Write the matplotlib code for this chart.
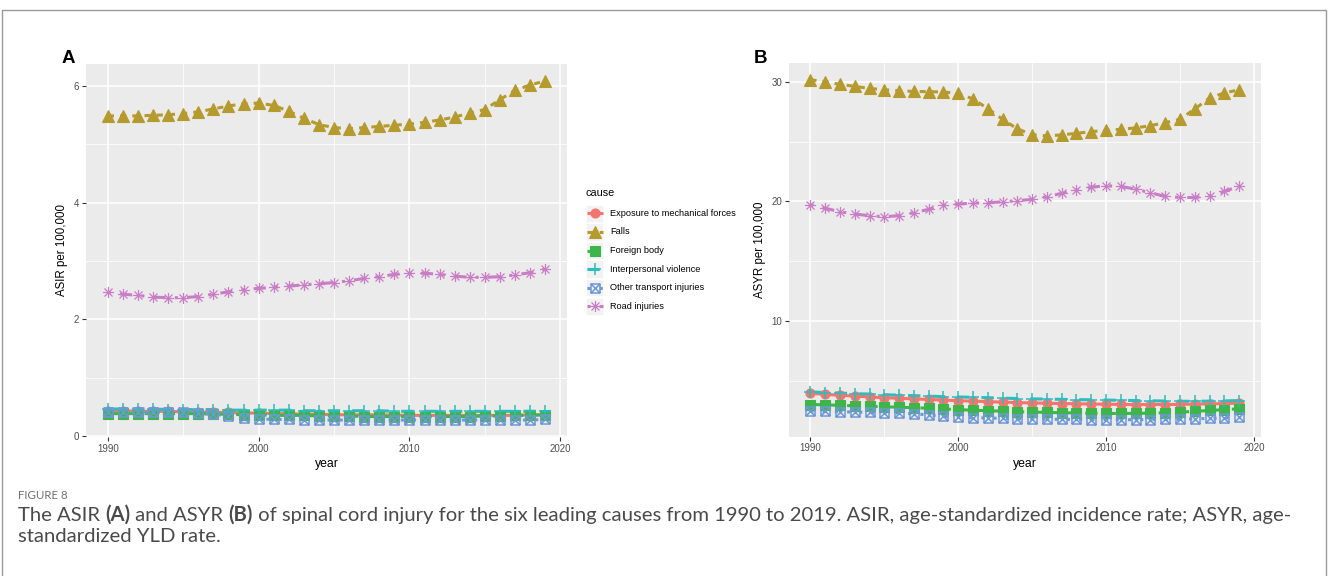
import numpy as np
import matplotlib
matplotlib.use("Agg")
import matplotlib.pyplot as plt
from matplotlib.path import Path
from matplotlib.patches import Rectangle
from matplotlib.lines import Line2D

plt.rcParams["font.family"] = ["Liberation Sans", "DejaVu Sans"]

# ---------------- data ----------------
years = list(range(1990, 2020))
causes = ["Exposure to mechanical forces", "Falls", "Foreign body",
          "Interpersonal violence", "Other transport injuries", "Road injuries"]

asir_exposure = [0.43, 0.43, 0.42, 0.42, 0.42, 0.41, 0.41, 0.40, 0.40, 0.39,
                 0.39, 0.38, 0.38, 0.37, 0.37, 0.36, 0.36, 0.36, 0.36, 0.355,
                 0.35, 0.35, 0.35, 0.35, 0.35, 0.35, 0.35, 0.35, 0.36, 0.36]
asir_falls = [5.49, 5.49, 5.49, 5.50, 5.51, 5.53, 5.56, 5.61, 5.66, 5.70,
              5.71, 5.67, 5.57, 5.45, 5.34, 5.29, 5.27, 5.29, 5.31, 5.33,
              5.35, 5.38, 5.42, 5.47, 5.54, 5.60, 5.77, 5.93, 6.02, 6.09]
asir_foreign = [0.38, 0.38, 0.38, 0.38, 0.38, 0.38, 0.38, 0.37, 0.37, 0.36,
                0.36, 0.35, 0.35, 0.35, 0.34, 0.34, 0.34, 0.33, 0.33, 0.33,
                0.33, 0.33, 0.33, 0.33, 0.33, 0.34, 0.34, 0.35, 0.35, 0.36]
asir_interp = [0.46, 0.46, 0.46, 0.46, 0.45, 0.45, 0.45, 0.45, 0.44, 0.44,
               0.44, 0.44, 0.44, 0.43, 0.43, 0.43, 0.43, 0.43, 0.43, 0.42,
               0.42, 0.42, 0.42, 0.42, 0.42, 0.42, 0.42, 0.42, 0.42, 0.42]
asir_other = [0.40, 0.40, 0.40, 0.40, 0.40, 0.40, 0.39, 0.37, 0.34, 0.30,
              0.29, 0.28, 0.28, 0.27, 0.27, 0.27, 0.27, 0.27, 0.27, 0.27,
              0.27, 0.27, 0.27, 0.27, 0.27, 0.27, 0.27, 0.27, 0.27, 0.28]
asir_road = [2.46, 2.43, 2.41, 2.38, 2.37, 2.37, 2.39, 2.43, 2.47, 2.51,
             2.53, 2.55, 2.57, 2.59, 2.61, 2.63, 2.66, 2.70, 2.73, 2.77,
             2.79, 2.79, 2.77, 2.74, 2.72, 2.72, 2.73, 2.76, 2.80, 2.86]

asyr_exposure = [3.97, 3.88, 3.80, 3.73, 3.66, 3.60, 3.55, 3.50, 3.45, 3.40,
                 3.35, 3.31, 3.27, 3.23, 3.19, 3.16, 3.13, 3.11, 3.09, 3.07,
                 3.05, 3.04, 3.03, 3.03, 3.03, 3.04, 3.06, 3.08, 3.11, 3.14]
asyr_falls = [30.17, 30.00, 29.78, 29.61, 29.44, 29.33, 29.25, 29.19, 29.17, 29.14,
              29.03, 28.56, 27.75, 26.86, 26.06, 25.58, 25.47, 25.56, 25.69, 25.83,
              25.94, 26.03, 26.14, 26.33, 26.58, 26.86, 27.72, 28.64, 29.06, 29.33]
asyr_foreign = [3.03, 3.00, 2.96, 2.92, 2.88, 2.84, 2.80, 2.76, 2.72, 2.66,
                2.60, 2.55, 2.51, 2.47, 2.43, 2.40, 2.37, 2.34, 2.32, 2.30,
                2.28, 2.28, 2.29, 2.31, 2.34, 2.39, 2.46, 2.53, 2.60, 2.67]
asyr_interp = [4.08, 4.03, 3.98, 3.94, 3.90, 3.85, 3.81, 3.77, 3.73, 3.69,
               3.66, 3.63, 3.60, 3.56, 3.53, 3.50, 3.48, 3.46, 3.44, 3.42,
               3.40, 3.38, 3.36, 3.34, 3.32, 3.30, 3.30, 3.31, 3.33, 3.36]
asyr_other = [2.47, 2.45, 2.42, 2.40, 2.37, 2.35, 2.32, 2.25, 2.16, 2.05,
              1.97, 1.93, 1.90, 1.87, 1.84, 1.82, 1.80, 1.79, 1.78, 1.77,
              1.76, 1.76, 1.76, 1.77, 1.78, 1.80, 1.83, 1.87, 1.91, 1.95]
asyr_road = [19.72, 19.42, 19.14, 18.94, 18.81, 18.72, 18.81, 19.06, 19.33, 19.67,
             19.78, 19.86, 19.89, 19.97, 20.06, 20.17, 20.39, 20.67, 20.94, 21.19,
             21.31, 21.25, 21.03, 20.72, 20.42, 20.33, 20.33, 20.47, 20.83, 21.28]

asir_series = [asir_exposure, asir_falls, asir_foreign, asir_interp, asir_other, asir_road]
asyr_series = [asyr_exposure, asyr_falls, asyr_foreign, asyr_interp, asyr_other, asyr_road]

# ---------------- styles ----------------
colors = ["#F2766E", "#B59A2E", "#3DB54B", "#2CBDBF", "#6E98D8", "#C97DC6"]

boxx = Path([(-1, -1), (1, -1), (1, 1), (-1, 1), (-1, -1),
             (-1, -1), (1, 1), (-1, 1), (1, -1)],
            [Path.MOVETO, Path.LINETO, Path.LINETO, Path.LINETO, Path.CLOSEPOLY,
             Path.MOVETO, Path.LINETO, Path.MOVETO, Path.LINETO])
d = 0.72
aster = Path([(-1, 0), (1, 0), (0, -1), (0, 1), (-d, -d), (d, d), (-d, d), (d, -d)],
             [Path.MOVETO, Path.LINETO] * 4)

markers = ["o", "^", "s", "+", boxx, aster]
msizes = [6.5, 8, 6.5, 9, 6.5, 8]
mfilled = [True, True, True, False, False, False]
mews = [0.8, 0.8, 0.8, 1.1, 1.1, 0.9]
dashes = [None, (2, 2), (4, 2), (4, 4), (1, 3), (1, 3, 4, 3)]
LW = 2.2

W, H = 1328, 576
fig = plt.figure(figsize=(W / 100, H / 100), dpi=100)

def px_axes(left, top, right, bottom):
    return fig.add_axes([left / W, 1 - bottom / H, (right - left) / W, (bottom - top) / H])

def style_axes(ax, yticks, yminor, ylabel):
    ax.set_facecolor("#EBEBEB")
    for s in ax.spines.values():
        s.set_visible(False)
    ax.set_xticks([1990, 2000, 2010, 2020])
    ax.set_xticks([1995, 2005, 2015], minor=True)
    ax.set_yticks(yticks)
    ax.set_yticks(yminor, minor=True)
    ax.grid(which="major", color="white", lw=1.1)
    ax.grid(which="minor", color="white", lw=0.55)
    ax.set_axisbelow(True)
    ax.tick_params(which="major", length=2.8, width=0.8, color="#333333",
                   labelsize=7, labelcolor="#4D4D4D", pad=2)
    ax.tick_params(which="minor", length=0)
    ax.set_xlabel("year", fontsize=8.8, color="black", labelpad=3)
    ax.set_ylabel(ylabel, fontsize=8.3, color="black", labelpad=4)

def draw(ax, series):
    allv = np.concatenate([np.asarray(s) for s in series])
    lo, hi = allv.min(), allv.max()
    pad = 0.05 * (hi - lo)
    ax.set_ylim(lo - pad, hi + pad)
    xpad = 0.05 * (years[-1] - years[0])
    ax.set_xlim(years[0] - xpad, years[-1] + xpad)
    for i, s in enumerate(series):
        ln, = ax.plot(years, s, color=colors[i], lw=LW, zorder=2,
                      solid_capstyle="butt", dash_capstyle="butt")
        if dashes[i] is not None:
            ln.set_dashes(dashes[i])
    for i, s in enumerate(series):
        ax.plot(years, s, ls="none", marker=markers[i], ms=msizes[i],
                mfc=colors[i] if mfilled[i] else "none", mec=colors[i],
                mew=mews[i], zorder=3)

axA = px_axes(86, 64, 567, 437)
draw(axA, asir_series)
style_axes(axA, [0, 2, 4, 6], [1, 3, 5], "ASIR per 100,000")
axA.set_yticklabels(["0", "2", "4", "6"])

axB = px_axes(789, 62.7, 1260.5, 436.7)
draw(axB, asyr_series)
style_axes(axB, [10, 20, 30], [5, 15, 25], "ASYR per 100,000")

# overlay in pixel coordinates
ov = fig.add_axes([0, 0, 1, 1], zorder=10)
ov.set_xlim(0, W)
ov.set_ylim(H, 0)
ov.axis("off")
ov.patch.set_alpha(0)

# border
ov.plot([2, 2, 1326, 1326], [H, 10, 10, H], color="#9A9A9A", lw=1.0)

# panel labels
ov.text(62, 62.7, "A", fontsize=13.5, fontweight="bold",
        va="baseline", ha="left")
ov.text(754, 62.7, "B", fontsize=13.5, fontweight="bold",
        va="baseline", ha="left")

# legend
ov.text(585.5, 196.5, "cause", fontsize=7.8, va="baseline", ha="left")
leg_y = [213.3, 231.8, 250.5, 269.0, 287.7, 306.4]
for i, c in enumerate(causes):
    y = leg_y[i]
    ov.add_patch(Rectangle((586, y - 8.6), 17.3, 17.3, facecolor="#F2F2F2",
                           edgecolor="white", lw=0.5, zorder=1))
    ln = Line2D([587, 603], [y, y], color=colors[i], lw=LW, zorder=2,
                solid_capstyle="butt", dash_capstyle="butt")
    if dashes[i] is not None:
        ln.set_dashes(dashes[i])
    ov.add_line(ln)
    ov.add_line(Line2D([595], [y], ls="none", marker=markers[i], ms=msizes[i],
                       mfc=colors[i] if mfilled[i] else "none", mec=colors[i],
                       mew=mews[i], zorder=3))
    ov.text(610, y, c, fontsize=6.6, va="center", ha="left")

# caption
CAPF = ["Lato", "DejaVu Sans"]
ov.text(18, 499, "FIGURE 8", fontsize=8.3, color="#707070", family=CAPF,
        va="baseline", ha="left")

renderer = fig.canvas.get_renderer()
cap_color = "#4A4A4A"
CAPW = "normal"

def seg_width(s, size, weight):
    t = ov.text(0, 0, "|" + s + "|", fontsize=size, fontweight=weight, family=CAPF)
    w1 = t.get_window_extent(renderer=renderer).width
    t.remove()
    t = ov.text(0, 0, "||", fontsize=size, fontweight=weight, family=CAPF)
    w2 = t.get_window_extent(renderer=renderer).width
    t.remove()
    return w1 - w2

line1 = [("The ASIR ", CAPW), ("(A)", "bold"), (" and ASYR ", CAPW),
         ("(B)", "bold"),
         (" of spinal cord injury for the six leading causes from 1990 to 2019. "
          "ASIR, age-standardized incidence rate; ASYR, age-", CAPW)]
line2 = [("standardized YLD rate.", CAPW)]

base = 10.0
tot = sum(seg_width(s, base, w) for s, w in line1)
size = base * (1290 - 18) / tot

def draw_line(segs, x0, y):
    x = x0
    for s, w in segs:
        ov.text(x, y, s, fontsize=size, fontweight=w, family=CAPF, color=cap_color,
                va="baseline", ha="left")
        x += seg_width(s, size, w)

draw_line(line1, 18, 521)
draw_line(line2, 18, 542)

fig.savefig("out.png", dpi=100)
